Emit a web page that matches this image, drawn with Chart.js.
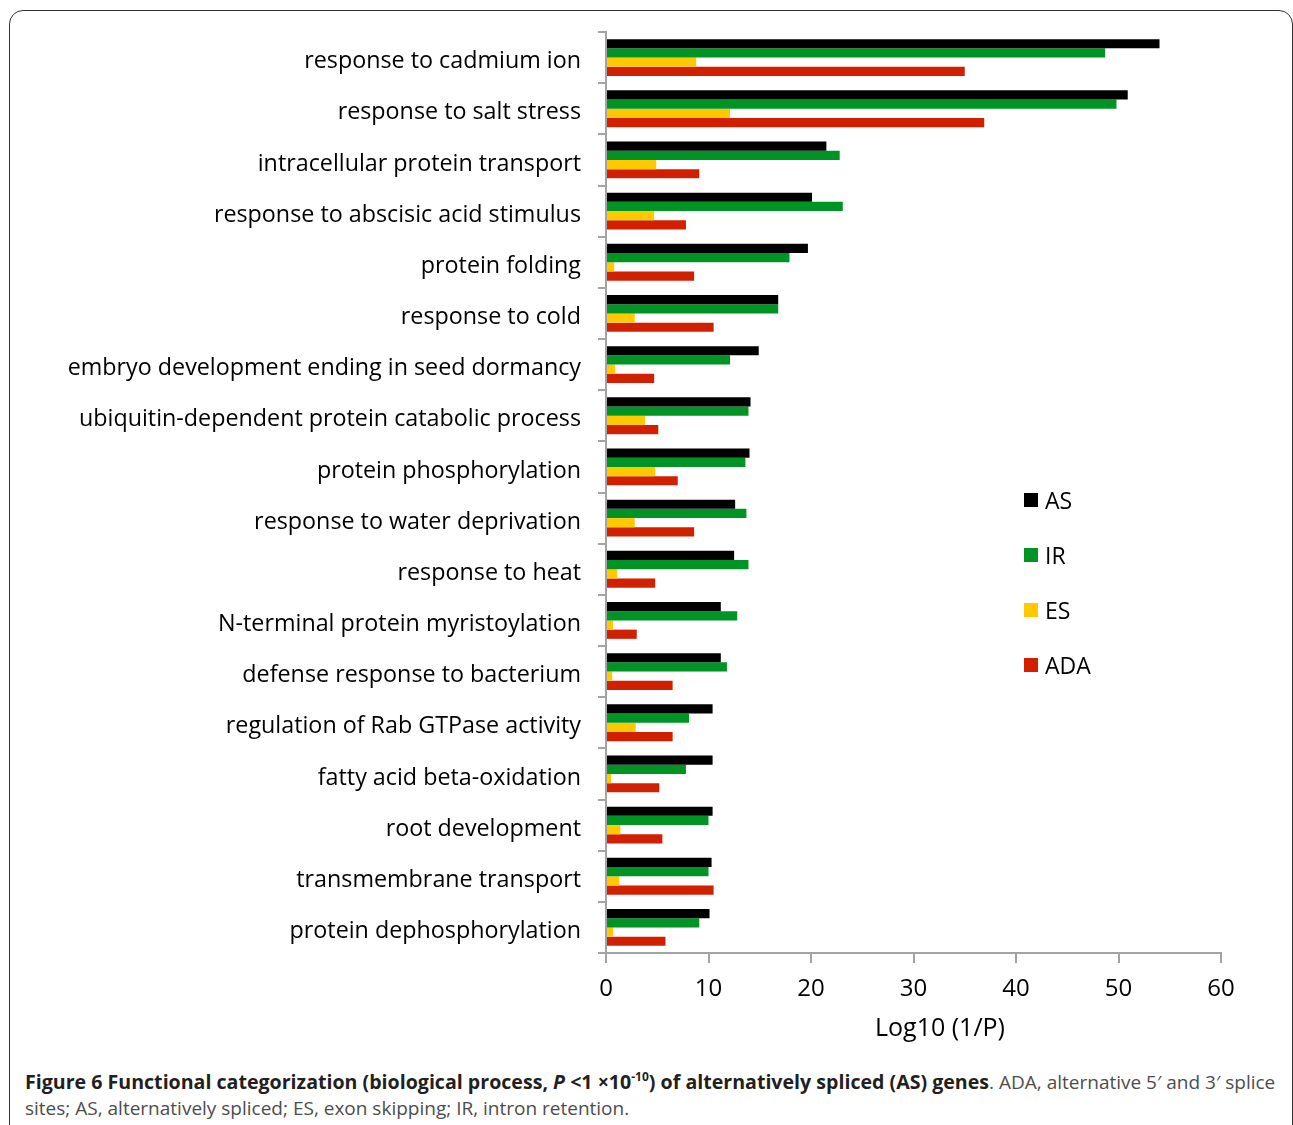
<!DOCTYPE html>
<html>
<head>
<meta charset="utf-8">
<title>Functional categorization of AS genes</title>
<script src="https://cdn.jsdelivr.net/npm/chart.js@4.4.1/dist/chart.umd.min.js"></script>
<style>
    body { margin: 0; background: #fff; width: 1293px; height: 1125px; overflow: hidden; position: relative; }
    #frame { position: absolute; left: 9px; top: 10px; width: 1284px; height: 1150px; border: 1.5px solid #333; border-radius: 14px; box-sizing: border-box; }
    #chart-go { position: absolute; left: 0; top: 0; }
    #caption { position: absolute; left: 25px; top: 1069px; width: 1264px; font-family: "Open Sans", sans-serif; font-size: 19px; line-height: 26px; color: #4d4d4d; }
    #caption b { color: #231f20; font-size: 19.6px; }
    #caption sup { font-size: 12px; line-height: 0; }
</style>
</head>
<body>
<div id="frame"></div>
<canvas id="chart-go" width="1293" height="1060"></canvas>
<div id="caption"><b>Figure 6 Functional categorization (biological process, <i>P</i> &lt;1 ×10<sup>-10</sup>) of alternatively spliced (AS) genes</b>. ADA, alternative 5′ and 3′ splice sites; AS, alternatively spliced; ES, exon skipping; IR, intron retention.</div>
<script>
const categories = [
    'response to cadmium ion',
    'response to salt stress',
    'intracellular protein transport',
    'response to abscisic acid stimulus',
    'protein folding',
    'response to cold',
    'embryo development ending in seed dormancy',
    'ubiquitin-dependent protein catabolic process',
    'protein phosphorylation',
    'response to water deprivation',
    'response to heat',
    'N-terminal protein myristoylation',
    'defense response to bacterium',
    'regulation of Rab GTPase activity',
    'fatty acid beta-oxidation',
    'root development',
    'transmembrane transport',
    'protein dephosphorylation',
];
const seriesNames = ['AS', 'IR', 'ES', 'ADA'];
const seriesColors = ['#000000', '#009424', '#ffc800', '#d02000'];

// Log10(1/P) per category
const dataAS = [54.0, 50.9, 21.5, 20.1, 19.7, 16.8, 14.9, 14.1, 14.0, 12.6, 12.5, 11.2, 11.2, 10.4, 10.4, 10.4, 10.3, 10.1];
const dataIR = [48.7, 49.8, 22.8, 23.1, 17.9, 16.8, 12.1, 13.9, 13.6, 13.7, 13.9, 12.8, 11.8, 8.1, 7.8, 10.0, 10.0, 9.1];
const dataES = [8.8, 12.1, 4.9, 4.7, 0.8, 2.8, 0.9, 3.8, 4.8, 2.8, 1.1, 0.7, 0.6, 2.9, 0.5, 1.4, 1.3, 0.7];
const dataADA = [35.0, 36.9, 9.1, 7.8, 8.6, 10.5, 4.7, 5.1, 7.0, 8.6, 4.8, 3.0, 6.5, 6.5, 5.2, 5.5, 10.5, 5.8];

const xTicks = [0, 10, 20, 30, 40, 50, 60];
const xTitle = 'Log10 (1/P)';

const FONT = '"Open Sans", sans-serif';
const AXIS_GREY = '#a3a3a3';

// vertical legend drawn inside the plot, right of the short bars
const sideLegend = {
    id: 'sideLegend',
    afterDraw(chart, args, opts) {
        const ctx = chart.ctx;
        ctx.save();
        ctx.font = '23px ' + FONT;
        ctx.textBaseline = 'middle';
        ctx.textAlign = 'left';
        chart.data.datasets.forEach((ds, i) => {
            const y = opts.top + i * opts.gap;
            ctx.fillStyle = ds.backgroundColor;
            ctx.fillRect(opts.left, y - 7, 14, 14);
            ctx.fillStyle = '#000';
            ctx.fillText(ds.label, opts.left + 21, y + 2);
        });
        ctx.restore();
    }
};

// x axis title, sits a bit right of the plot centre
const axisTitle = {
    id: 'axisTitle',
    afterDraw(chart, args, opts) {
        const ctx = chart.ctx;
        ctx.save();
        ctx.font = '25px ' + FONT;
        ctx.fillStyle = '#000';
        ctx.textAlign = 'center';
        ctx.textBaseline = 'middle';
        ctx.fillText(opts.text, opts.x, opts.y);
        ctx.restore();
    }
};

const values = [dataAS, dataIR, dataES, dataADA];

let chartGo = new Chart(document.getElementById('chart-go'), {
    type: 'bar',
    data: {
        labels: categories,
        datasets: seriesNames.map((name, i) => ({
            label: name,
            data: values[i],
            backgroundColor: seriesColors[i],
            borderWidth: 0,
            categoryPercentage: 0.72,
            barPercentage: 1.0,
        }))
    },
    options: {
        indexAxis: 'y',
        responsive: false,
        animation: false,
        layout: {padding: {top: 32, right: 72, left: 0, bottom: 0}},
        plugins: {
            legend: {display: false},
            tooltip: {enabled: false},
            sideLegend: {left: 1024, top: 500, gap: 55},
            axisTitle: {text: xTitle, x: 940, y: 1029},
        },
        scales: {
            x: {
                min: 0,
                max: 60,
                afterBuildTicks: (scale) => { scale.ticks = xTicks.map(v => ({value: v})); },
                ticks: {font: {family: FONT, size: 24}, color: '#000', padding: 12},
                grid: {drawOnChartArea: false, tickLength: 10, color: AXIS_GREY, lineWidth: 2},
                border: {color: AXIS_GREY, width: 2},
                afterFit: (scale) => { scale.height = 107; },
            },
            y: {
                ticks: {font: {family: FONT, size: 23.3}, color: '#000', padding: 17, labelOffset: 4},
                grid: {drawOnChartArea: false, offset: true, tickLength: 8, color: AXIS_GREY, lineWidth: 2},
                border: {color: AXIS_GREY, width: 2},
                afterFit: (scale) => { scale.width = 606; },
            }
        }
    },
    plugins: [sideLegend, axisTitle]
});
</script>
</body>
</html>
